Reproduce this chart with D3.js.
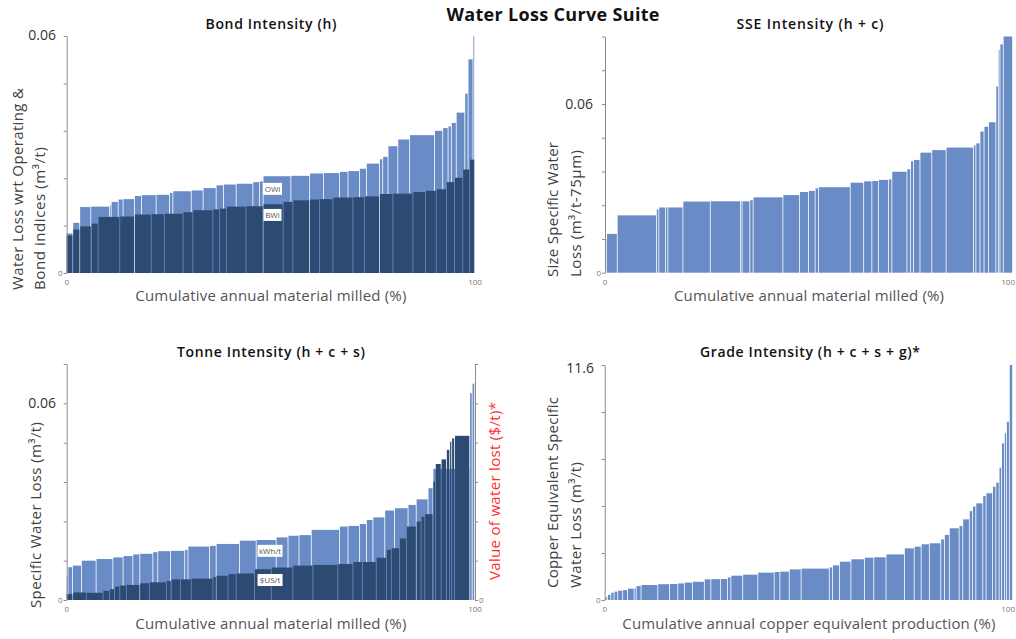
<!DOCTYPE html>
<html>
<head>
<meta charset="utf-8">
<script src="https://d3js.org/d3.v7.min.js"></script>
<style>
  body { margin: 0; background: #fff; }
  svg { display: block; font-family: "Open Sans", sans-serif; }
</style>
</head>
<body>
<script>
// Each step = [cumulative % at right edge, value]

// Bond Intensity (h)
const owiSteps = [
  [1.6, 0.0100], [3.3, 0.0127], [6.0, 0.0167], [10.6, 0.0168], [11.0, 0.0171], [12.7, 0.0180],
  [13.9, 0.0186], [16.7, 0.0187], [18.4, 0.0195], [22.0, 0.0197], [25.3, 0.0198], [26.1, 0.0203],
  [30.6, 0.0207], [33.5, 0.0209], [36.7, 0.0215], [38.5, 0.0222], [41.6, 0.0224], [45.7, 0.0226],
  [47.3, 0.0230], [48.2, 0.0232], [55.0, 0.0245], [59.6, 0.0246], [63.0, 0.0252], [66.9, 0.0253],
  [69.0, 0.0256], [71.8, 0.0258], [73.5, 0.0264], [76.7, 0.0277], [77.5, 0.0288], [78.8, 0.0294],
  [81.2, 0.0321], [84.1, 0.0338], [90.2, 0.0349], [92.2, 0.0360], [93.5, 0.0367], [94.3, 0.0371],
  [95.5, 0.0380], [97.6, 0.0406], [98.4, 0.0454], [99.6, 0.0541], [100, 0.0600]
];
const bwiSteps = [
  [1.6, 0.0095], [3.3, 0.0110], [6.1, 0.0118], [7.8, 0.0125], [13.1, 0.0142], [16.7, 0.0143],
  [20.8, 0.0148], [24.0, 0.0149], [28.6, 0.0150], [31.0, 0.0154], [35.9, 0.0159], [37.5, 0.0161],
  [39.2, 0.0163], [44.0, 0.0168], [48.2, 0.0169], [53.1, 0.0174], [55.5, 0.0180], [59.6, 0.0184],
  [62.0, 0.0186], [65.3, 0.0187], [70.2, 0.0191], [73.0, 0.0192], [76.7, 0.0194], [80.0, 0.0200],
  [84.9, 0.0201], [88.0, 0.0205], [90.6, 0.0208], [93.1, 0.0212], [95.1, 0.0230], [97.1, 0.0241],
  [98.8, 0.0262], [100, 0.0287]
];

// SSE Intensity (h + c)
const sseSteps = [
  [0.5, 0.0120], [3.1, 0.0138], [12.7, 0.0204], [13.3, 0.0225], [14.9, 0.0232], [15.5, 0.0232],
  [19.2, 0.0232], [25.9, 0.0253], [33.3, 0.0254], [33.7, 0.0254], [35.6, 0.0254], [36.4, 0.0258],
  [43.7, 0.0268], [47.8, 0.0276], [50.0, 0.0287], [51.6, 0.0291], [52.4, 0.0300], [60.2, 0.0304],
  [63.5, 0.0320], [65.5, 0.0325], [67.1, 0.0326], [69.6, 0.0330], [70.4, 0.0332], [74.1, 0.0359],
  [75.0, 0.0368], [75.7, 0.0396], [77.3, 0.0401], [80.2, 0.0427], [83.7, 0.0436], [90.4, 0.0445],
  [91.0, 0.0453], [92.0, 0.0460], [93.0, 0.0502], [94.1, 0.0519], [95.9, 0.0535], [96.5, 0.0662],
  [96.9, 0.0792], [97.7, 0.0812], [100, 0.0840]
];

// Tonne Intensity (h + c + s)
const kwhSteps = [
  [0.4, 0.0071], [1.5, 0.0100], [3.7, 0.0105], [7.3, 0.0120], [11.4, 0.0125], [13.9, 0.0130],
  [16.3, 0.0134], [18.0, 0.0139], [21.2, 0.0141], [22.4, 0.0146], [25.5, 0.0149], [29.0, 0.0150],
  [29.8, 0.0153], [35.1, 0.0163], [36.7, 0.0165], [42.4, 0.0171], [46.5, 0.0181], [51.4, 0.0183],
  [54.3, 0.0191], [57.0, 0.0196], [60.0, 0.0198], [66.9, 0.0214], [69.0, 0.0224], [71.8, 0.0226],
  [73.5, 0.0232], [75.1, 0.0244], [78.0, 0.0252], [80.4, 0.0273], [83.7, 0.0280], [85.7, 0.0290],
  [88.6, 0.0307], [89.8, 0.0341], [98.8, 0.0400], [99.4, 0.0631], [100, 0.0660]
];
const usdSteps = [
  [1.6, 0.0018], [4.9, 0.0023], [9.0, 0.0022], [10.6, 0.0028], [11.8, 0.0033], [13.1, 0.0041],
  [14.7, 0.0044], [18.0, 0.0046], [20.4, 0.0051], [24.5, 0.0054], [25.7, 0.0058], [28.0, 0.0063],
  [30.6, 0.0063], [35.9, 0.0065], [36.7, 0.0070], [39.6, 0.0074], [41.6, 0.0079], [46.1, 0.0081],
  [50.2, 0.0094], [55.5, 0.0099], [60.4, 0.0105], [66.5, 0.0107], [70.2, 0.0110], [72.5, 0.0116],
  [75.9, 0.0116], [78.4, 0.0129], [79.6, 0.0153], [81.6, 0.0158], [83.3, 0.0188], [85.7, 0.0224],
  [86.9, 0.0239], [87.8, 0.0254], [89.8, 0.0262], [90.4, 0.0361], [91.8, 0.0415], [93.1, 0.0429],
  [93.9, 0.0458], [94.4, 0.0483], [95.1, 0.0493], [98.8, 0.0501], [100, 0.0]
];

// Grade Intensity (h + c + s + g)*
const gradeSteps = [
  [0.4, 0.08], [0.8, 0.16], [1.6, 0.25], [2.4, 0.36], [3.3, 0.41], [4.5, 0.46], [5.7, 0.49],
  [7.3, 0.56], [7.8, 0.58], [9.0, 0.69], [13.1, 0.74], [16.0, 0.78], [18.0, 0.79], [19.6, 0.82],
  [21.6, 0.86], [24.5, 0.90], [26.1, 1.02], [28.5, 1.03], [30.2, 1.04], [31.0, 1.12], [33.9, 1.20],
  [37.6, 1.25], [41.6, 1.35], [43.0, 1.38], [45.3, 1.40], [48.2, 1.51], [55.1, 1.55], [55.9, 1.61],
  [57.6, 1.71], [60.4, 1.89], [63.7, 2.01], [66.0, 2.09], [69.0, 2.11], [73.5, 2.25], [75.9, 2.55],
  [77.6, 2.63], [79.6, 2.75], [82.4, 2.80], [83.3, 2.99], [84.5, 3.21], [86.9, 3.54], [87.8, 3.65],
  [89.4, 3.98], [90.2, 4.39], [91.0, 4.61], [92.7, 4.77], [93.5, 5.13], [95.1, 5.27], [95.9, 5.59],
  [96.7, 5.79], [97.3, 6.53], [98.0, 7.73], [98.5, 8.23], [99.2, 8.80], [100, 11.6]
];

const lightBlue = "#6a8cc6";
const darkBlue = "#2d4a72";
const axisGrey = "#8a8a8a";
const labelGrey = "#404040";

const svg = d3.select("body").append("svg")
  .attr("width", 1016)
  .attr("height", 639);

// turn [end, value] pairs into bars with a start and end
function toBars(steps) {
  let start = 0;
  return steps.map(([end, v]) => {
    const b = { x0: start, x1: end, v: v };
    start = end;
    return b;
  });
}

function drawBars(g, x, y, steps, color) {
  g.append("g")
    .selectAll("rect")
    .data(toBars(steps))
    .join("rect")
    .attr("x", d => x(d.x0))
    .attr("width", d => Math.max(0.4, x(d.x1) - x(d.x0) - 0.8))
    .attr("y", d => y(d.v))
    .attr("height", d => y(0) - y(d.v))
    .attr("fill", color);
}

function rotLabel(g, x, yBottom, text, len, color) {
  g.append("text")
    .attr("transform", `translate(${x},${yBottom}) rotate(-90)`)
    .attr("text-anchor", "start")
    .attr("font-size", 15)
    .attr("fill", color || labelGrey)
    .attr("textLength", len)
    .text(text);
}

function drawPanel(p) {
  const g = svg.append("g");
  const x = d3.scaleLinear().domain([0, 100]).range([p.left, p.right]);
  const y = d3.scaleLinear().domain([0, p.ymax]).range([p.bottom, p.top]);
  const tickVals = d3.range(0, p.ymax + 1e-9, p.tickStep);

  p.series.forEach(s => drawBars(g, x, y, s.steps, s.color));

  // left axis
  g.append("g")
    .attr("transform", `translate(${x(0)},0)`)
    .call(d3.axisLeft(y).tickValues(tickVals).tickSize(3).tickSizeOuter(0).tickFormat(""))
    .call(a => a.selectAll("path, line").attr("stroke", axisGrey));

  if (p.rightAxis) {
    g.append("g")
      .attr("transform", `translate(${x(100)},0)`)
      .call(d3.axisRight(y).tickValues(tickVals).tickSize(3).tickSizeOuter(0).tickFormat(""))
      .call(a => a.selectAll("path, line").attr("stroke", axisGrey));
    g.append("text")
      .attr("x", x(100) + 4).attr("y", y(0) + 3)
      .attr("font-size", 8).attr("fill", "#777")
      .text("0");
  }

  // tick labels
  g.append("text")
    .attr("x", p.topLabelX).attr("y", y(p.topLabel) + p.topLabelDy)
    .attr("text-anchor", "end")
    .attr("font-size", 14).attr("fill", "#333")
    .text(p.topLabelText);
  g.append("text")
    .attr("x", x(0) - 4).attr("y", y(0) + 3)
    .attr("text-anchor", "end")
    .attr("font-size", 8).attr("fill", "#777")
    .text("0");
  g.append("text")
    .attr("x", x(0)).attr("y", y(0) + 12)
    .attr("text-anchor", "middle")
    .attr("font-size", 8).attr("fill", "#777")
    .text("0");
  // keep the right-hand "100" inside the page
  const edgeClose = x(100) + 8 > 1016;
  g.append("text")
    .attr("x", edgeClose ? 1015 : x(100)).attr("y", y(0) + 12)
    .attr("text-anchor", edgeClose ? "end" : "middle")
    .attr("font-size", 8).attr("fill", "#777")
    .text("100");

  // title
  g.append("text")
    .attr("x", p.titleX).attr("y", p.titleY)
    .attr("text-anchor", "middle")
    .attr("font-size", 14).attr("font-weight", 600).attr("fill", "#111")
    .attr("textLength", p.titleLen)
    .text(p.title);

  // x label
  g.append("text")
    .attr("x", (p.left + p.right) / 2).attr("y", p.xLabelY)
    .attr("text-anchor", "middle")
    .attr("font-size", 15).attr("fill", "#555")
    .attr("textLength", p.xLabelLen)
    .text(p.xLabel);

  p.yLabels.forEach(l => rotLabel(g, l.x, l.y, l.text, l.len, l.color));

  // in-chart boxed labels
  (p.tags || []).forEach(t => {
    const cx = x(t.at), cy = y(t.v);
    g.append("rect")
      .attr("x", cx - t.w / 2).attr("y", cy - 6)
      .attr("width", t.w).attr("height", 12)
      .attr("fill", "#fff");
    g.append("text")
      .attr("x", cx).attr("y", cy + 3)
      .attr("text-anchor", "middle")
      .attr("font-size", 8).attr("fill", "#555")
      .text(t.text);
  });
}

// main title
svg.append("text")
  .attr("x", 553).attr("y", 21)
  .attr("text-anchor", "middle")
  .attr("font-size", 18).attr("font-weight", 700).attr("fill", "#111")
  .attr("textLength", 213)
  .text("Water Loss Curve Suite");

drawPanel({
  left: 66.7, right: 475, top: 36, bottom: 273, ymax: 0.06, tickStep: 0.012,
  series: [{ steps: owiSteps, color: lightBlue }, { steps: bwiSteps, color: darkBlue }],
  topLabel: 0.06, topLabelText: "0.06", topLabelX: 56, topLabelDy: 4,
  title: "Bond Intensity (h)", titleX: 271, titleY: 29, titleLen: 131,
  xLabel: "Cumulative annual material milled (%)", xLabelY: 301, xLabelLen: 271,
  yLabels: [
    { x: 23, y: 290, text: "Water Loss wrt Operating &", len: 202 },
    { x: 45, y: 290, text: "Bond indices  (m³/t)", len: 143 }
  ],
  tags: [
    { at: 50.4, v: 0.0213, text: "OWi", w: 19 },
    { at: 50.4, v: 0.0147, text: "BWi", w: 18 }
  ]
});

drawPanel({
  left: 605, right: 1013, top: 36.5, bottom: 272.7, ymax: 0.084, tickStep: 0.012,
  series: [{ steps: sseSteps, color: lightBlue }],
  topLabel: 0.06, topLabelText: "0.06", topLabelX: 593, topLabelDy: 5,
  title: "SSE Intensity (h + c)", titleX: 810, titleY: 29, titleLen: 147,
  xLabel: "Cumulative annual material milled (%)", xLabelY: 301, xLabelLen: 270,
  yLabels: [
    { x: 558, y: 277, text: "Size Specific Water", len: 135 },
    { x: 581, y: 277, text: "Loss (m³/t-75µm)", len: 127 }
  ]
});

drawPanel({
  left: 66.7, right: 475, top: 364, bottom: 600, ymax: 0.072, tickStep: 0.012,
  rightAxis: true,
  series: [{ steps: kwhSteps, color: lightBlue }, { steps: usdSteps, color: darkBlue }],
  topLabel: 0.06, topLabelText: "0.06", topLabelX: 56, topLabelDy: 5,
  title: "Tonne Intensity (h + c + s)", titleX: 271, titleY: 357, titleLen: 188,
  xLabel: "Cumulative annual material milled (%)", xLabelY: 629, xLabelLen: 271,
  yLabels: [
    { x: 41, y: 608, text: "Specific Water Loss (m³/t)", len: 186 },
    { x: 500, y: 580, text: "Value of water lost ($/t)*", len: 178, color: "#ff2a2a" }
  ],
  tags: [
    { at: 49.8, v: 0.0150, text: "kWh/t", w: 25 },
    { at: 49.8, v: 0.0061, text: "$US/t", w: 25 }
  ]
});

drawPanel({
  left: 604.7, right: 1013, top: 365, bottom: 600, ymax: 11.6, tickStep: 2.32,
  series: [{ steps: gradeSteps, color: lightBlue }],
  topLabel: 11.6, topLabelText: "11.6", topLabelX: 594, topLabelDy: 8,
  title: "Grade Intensity (h + c + s + g)*", titleX: 810, titleY: 357, titleLen: 220,
  xLabel: "Cumulative annual copper equivalent production (%)", xLabelY: 629, xLabelLen: 373,
  yLabels: [
    { x: 558, y: 588, text: "Copper Equivalent Specific", len: 191 },
    { x: 581, y: 588, text: "Water Loss (m³/t)", len: 126 }
  ]
});
</script>
</body>
</html>
